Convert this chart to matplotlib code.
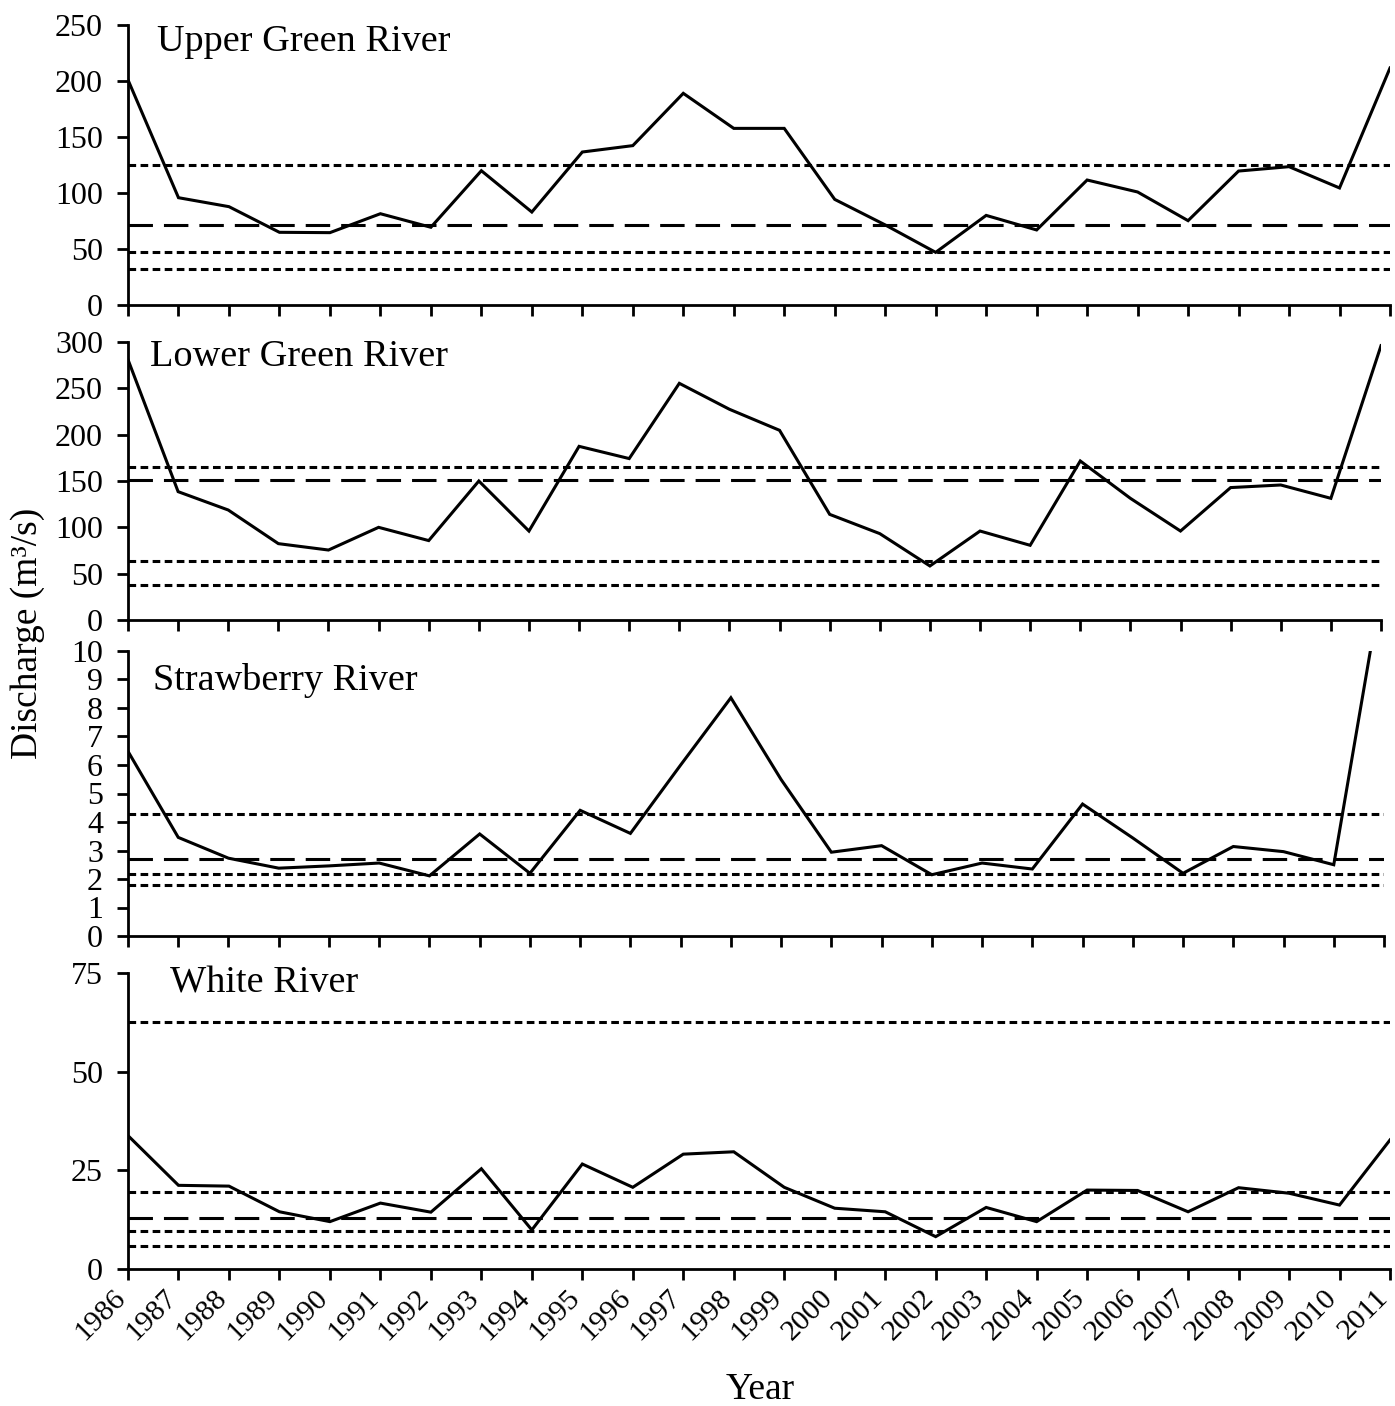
import numpy as np
import matplotlib
matplotlib.use("Agg")
import matplotlib.pyplot as plt
from matplotlib.transforms import ScaledTranslation

plt.rcParams['font.family'] = ['Liberation Serif', 'DejaVu Serif']

# Annual mean discharge, 1986-2011 (m3/s)
years = np.arange(1986, 2012)

upper_green = [201, 95.8, 87.8, 64.9, 64.6, 81.5, 69.4, 119.9, 83, 136.6, 142.3, 189,
               157.7, 157.7, 94.3, 71.5, 47, 80, 67, 111.6, 100.9, 75.3, 119.6, 123.5,
               104.5, 211.6]
lower_green = [281, 138.5, 118.7, 82.4, 75.5, 100, 85.7, 150, 96, 187.4, 174.2, 255.4,
               227.4, 204.7, 114, 93.2, 58.3, 96, 80.6, 171.6, 131.3, 96, 142.9, 145.7,
               131.3, 296]
strawberry = [6.48, 3.46, 2.73, 2.38, 2.46, 2.56, 2.11, 3.58, 2.2, 4.41, 3.6, 6.0,
              8.36, 5.49, 2.94, 3.17, 2.15, 2.56, 2.35, 4.63, 3.44, 2.2, 3.14, 2.96,
              2.5, 12.8]
white = [33.8, 21.2, 21.0, 14.5, 12.0, 16.7, 14.4, 25.4, 9.9, 26.6, 20.7, 29.1,
         29.7, 20.7, 15.4, 14.5, 8.2, 15.6, 12.0, 20.0, 19.9, 14.5, 20.6, 19.2,
         16.2, 32.7]

# Flow thresholds: dotted lines and the long-dashed mean line
upper_green_dotted = [125, 47.6, 31.8]
upper_green_dashed = 71.2
lower_green_dotted = [165.5, 63.7, 38.2]
lower_green_dashed = 151.5
strawberry_dotted = [4.29, 2.18, 1.79]
strawberry_dashed = 2.71
white_dotted = [62.7, 19.5, 9.7, 5.9]
white_dashed = 12.8

names = ['Upper Green River', 'Lower Green River', 'Strawberry River', 'White River']
series = [upper_green, lower_green, strawberry, white]
dotted = [upper_green_dotted, lower_green_dotted, strawberry_dotted, white_dotted]
dashed = [upper_green_dashed, lower_green_dashed, strawberry_dashed, white_dashed]
ylims = [(0, 250), (0, 300), (0, 10), (0, 75)]
ysteps = [50, 50, 1, 25]

W, H = 1395, 1406
fig = plt.figure(figsize=(W / 100, H / 100), dpi=100)

# panel boxes in pixels: left, right, top, bottom
boxes = [(128, 1390, 25, 305), (128, 1381, 342, 620),
         (128, 1384, 651, 936), (128, 1390, 973, 1269)]
title_pos = [(157, 42), (150, 357), (153, 681), (170, 983)]

axes = []
for i, (l, r, t, b) in enumerate(boxes):
    ax = fig.add_axes([l / W, 1 - b / H, (r - l) / W, (b - t) / H])
    axes.append(ax)
    for v in dotted[i]:
        ax.axhline(v, color='black', lw=2.2, linestyle=(0, (2.5, 1.45)))
    ax.axhline(dashed[i], color='black', lw=2.2, linestyle=(0, (8, 3.6)))
    ax.plot(years, series[i], color='black', lw=2.2, solid_joinstyle='miter')

    ax.set_xlim(1986, 2011)
    ax.set_ylim(*ylims[i])
    ax.set_yticks(np.arange(ylims[i][0], ylims[i][1] + ysteps[i] / 2, ysteps[i]))
    ax.set_xticks(years)
    for s in ['top', 'right']:
        ax.spines[s].set_visible(False)
    for s in ['left', 'bottom']:
        ax.spines[s].set_linewidth(2)
    ax.tick_params(direction='out', length=8, width=2, labelsize=23)
    ax.tick_params(axis='y', pad=10)
    ax.patch.set_alpha(0)

    tx, ty = title_pos[i]
    fig.text(tx / W, 1 - ty / H, names[i], fontsize=27.5, ha='left', va='center')

    if i < 3:
        ax.set_xticklabels([])
    else:
        ax.set_xticklabels([str(y) for y in years], rotation=45, ha='right',
                           va='top', fontsize=21.5)
        shift = ScaledTranslation(3 / 100, 0, fig.dpi_scale_trans)
        for lab in ax.get_xticklabels():
            lab.set_transform(lab.get_transform() + shift)

fig.text(760 / W, 1 - 1390 / H, 'Year', fontsize=27, ha='center', va='center')
fig.text(28 / W, 1 - 633 / H, 'Discharge (m³/s)', fontsize=27, rotation=90,
         ha='center', va='center')

fig.savefig('out.png', dpi=100)
